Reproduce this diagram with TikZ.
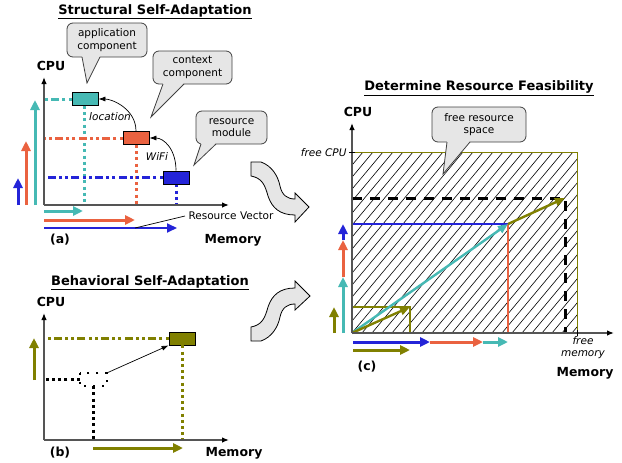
\documentclass[tikz,border=0pt]{standalone}
\usepackage{fontspec}
\setmainfont{DejaVu Sans}
\usetikzlibrary{arrows.meta,calc}
\definecolor{cteal}{RGB}{70,185,180}
\definecolor{corange}{RGB}{234,98,64}
\definecolor{cblue}{RGB}{36,36,216}
\definecolor{colive}{RGB}{128,128,0}
\definecolor{bubblegray}{RGB}{230,230,230}
\definecolor{axisgray}{RGB}{85,85,85}
\tikzset{
 box/.style={draw=black, line width=0.8pt, minimum width=26pt, minimum height=13pt, inner sep=0pt},
 bubble/.style={draw=black!75, fill=bubblegray, rounded corners=6pt, line width=0.8pt, align=center, font=\fontsize{10.5}{12.5}\selectfont, inner sep=0pt},
 ptr/.style={draw=black!75, line width=0.8pt},
 axis/.style={draw=axisgray, line width=1.3pt, -{Latex[length=7pt,width=5.5pt,color=black]}},
 fatarrow/.style={line width=3pt, -{Triangle[length=10pt,width=9pt]}},
 midarrow/.style={line width=2.4pt, -{Triangle[length=10pt,width=9pt]}},
 thinarrow/.style={line width=0.7pt, -{Latex[length=7pt,width=5pt]}},
 dotline/.style={line width=3pt, dash pattern=on 3pt off 3.2pt},
 dashdotline/.style={line width=3pt, dash pattern=on 3pt off 3.2pt on 3pt off 3.2pt on 8pt off 3.2pt},
 thindots/.style={line width=2pt, dash pattern=on 2pt off 7pt},
 titletxt/.style={font=\fontsize{13}{15}\bfseries\selectfont},
 labtxt/.style={font=\fontsize{12.5}{14}\bfseries\selectfont},
 txt/.style={font=\fontsize{10.5}{12}\selectfont},
 itxt/.style={font=\fontsize{10.5}{12}\itshape\selectfont},
 bigarrow/.style={draw=black, line width=0.8pt, fill=bubblegray},
}
\begin{document}
\begin{tikzpicture}[x=1pt,y=-1pt]
\useasboundingbox (0,0) rectangle (622,463);

% ===================== Panel (a) =====================
\node[titletxt] (ta) at (155,12) {\underline{Structural Self-Adaptation}};
\node[labtxt] (cpua) at (51,66) {CPU};
\node[labtxt] (la) at (60,240) {(a)};
\node[labtxt] (mema) at (233,240) {Memory};

\coordinate (Oa) at (44,205);
\coordinate (Ya) at (44,77);
\coordinate (Xa) at (229,205);

\node[box, fill=cteal] (app) at (85,99) {};
\node[box, fill=corange] (ctx) at (136,138) {};
\node[box, fill=cblue] (res) at (176,177.5) {};

% dotted projections
\draw[dashdotline, cteal] (app.west) -- (app.west -| Oa);
\draw[dotline, cteal] (app.south -| 84,0) -- (84,205);
\draw[dashdotline, corange] (ctx.west) -- (ctx.west -| Oa);
\draw[dotline, corange] (ctx.south) -- (ctx.south |- Oa);
\draw[dashdotline, cblue] (res.west) -- (res.west -| Oa);
\draw[dotline, cblue] (res.south) -- (res.south |- Oa);

\draw[axis] (Oa) -- (Ya);
\draw[axis] (Oa) -- (Xa);

\node[box, fill=cteal] at (app) {};
\node[box, fill=corange] at (ctx) {};
\node[box, fill=cblue] at (res) {};

% dependency arrows
\draw[thinarrow] (ctx.north) .. controls +(0,-22) and +(14,0) .. (app.east);
\draw[thinarrow] (res.north) .. controls +(0,-22) and +(14,0) .. (ctx.east);
\node[itxt] (loc) at (110,117) {location};
\node[itxt] (wifi) at (157,157) {WiFi};

% left arrows
\coordinate (ab) at (18,205); \coordinate (abt) at (18,178);
\coordinate (ao) at (26,205); \coordinate (aot) at (26,141);
\coordinate (at) at (35,205); \coordinate (att) at (35,100);
\draw[fatarrow, cblue] (ab) -- (abt);
\draw[fatarrow, corange] (ao) -- (aot);
\draw[fatarrow, cteal] (at) -- (att);

% bottom arrows
\coordinate (bt0) at (44,211); \coordinate (bt1) at (83,211);
\coordinate (bo0) at (44,220); \coordinate (bo1) at (135,220);
\coordinate (bb0) at (44,228); \coordinate (bb1) at (177,228);
\draw[fatarrow, cteal] (bt0) -- (bt1);
\draw[fatarrow, corange] (bo0) -- (bo1);
\draw[midarrow, cblue, line width=2pt] (bb0) -- (bb1);

\node[txt, anchor=west] (rv) at (185,216) {Resource Vector};
\coordinate (rvp) at (135,228);
\draw[line width=0.7pt] (rv.west) -- (rvp);

% callouts
\node[bubble, minimum width=80pt, minimum height=34pt] (capp) at (107,40) {application\\component};
\fill[bubblegray] (82,56) -- (87,83) -- (100,56) -- cycle;
\draw[ptr] (82,57) -- (87,83) -- (100,57);

\node[bubble, minimum width=79pt, minimum height=33pt] (cctx) at (192.5,67.5) {context\\component};
\fill[bubblegray] (163,83) -- (151,117) -- (184,83) -- cycle;
\draw[ptr] (163,84) -- (151,117) -- (184,84);

\node[bubble, minimum width=71pt, minimum height=33pt] (cres) at (231.5,127.5) {resource\\module};
\fill[bubblegray] (201,143) -- (194,165) -- (216,143) -- cycle;
\draw[ptr] (201,144) -- (194,165) -- (216,144);

% ===================== Panel (b) =====================
\node[titletxt] (tb) at (150,283) {\underline{Behavioral Self-Adaptation}};
\node[labtxt] (cpub) at (51,302) {CPU};
\node[labtxt] (lb) at (60,453) {(b)};
\node[labtxt] (memb) at (234,453) {Memory};

\coordinate (Ob) at (44,440);
\coordinate (Yb) at (44,313);
\coordinate (Xb) at (229,440);

\node[box, fill=colive] (beh) at (182,338.5) {};
\node[minimum width=27pt, minimum height=13pt, inner sep=0pt] (old) at (93.5,379.5) {};
\draw[thindots] (old.north west) rectangle (old.south east);

\draw[dashdotline, colive] (beh.west) -- (beh.west -| Ob);
\draw[dotline, colive] (beh.south) -- (beh.south |- Ob);
\draw[dotline, black] (old.west) -- (old.west -| Ob);
\draw[dotline, black] (old.south) -- (old.south |- Ob);

\draw[axis] (Ob) -- (Yb);
\draw[axis] (Ob) -- (Xb);

\draw[thinarrow] (old.north east) -- (beh.south west);

\coordinate (bv0) at (34,380); \coordinate (bv1) at (34,338);
\draw[fatarrow, colive] (bv0) -- (bv1);
\coordinate (bh0) at (93,448); \coordinate (bh1) at (183,448);
\draw[fatarrow, colive] (bh0) -- (bh1);

% ===================== big curved arrows =====================
\draw[bigarrow] (261,162) .. controls (272,166) and (278,176) .. (280,186)
  .. controls (282,195) and (287,199) .. (295,199) -- (295,193) -- (309,207) -- (295,222) -- (295,215)
  .. controls (280,215) and (272,208) .. (268,196) .. controls (265,185) and (262,178) .. (251,176)
  -- (251,162) -- cycle;
\draw[bigarrow] (261,341) .. controls (272,337) and (278,327) .. (280,317)
  .. controls (282,308) and (287,304) .. (295,304) -- (295,310) -- (310,296) -- (295,281) -- (295,288)
  .. controls (280,288) and (272,295) .. (268,307) .. controls (265,318) and (262,325) .. (251,327)
  -- (251,341) -- cycle;

% ===================== Panel (c) =====================
\node[titletxt] (tc) at (479,88) {\underline{Determine Resource Feasibility}};
\node[labtxt] (cpuc) at (358,112) {CPU};
\node[labtxt] (lc) at (367,367) {(c)};
\node[labtxt] (memc) at (585,373) {Memory};

\coordinate (Oc) at (352,333);
\coordinate (Rc) at (577,152);
\coordinate (Yc) at (352,123);
\coordinate (Xc) at (614,333);

\begin{scope}
\clip (Oc) rectangle (Rc);
\foreach \i in {-16,...,23} {
  \draw[line width=0.6pt] ({352+\i*10},333) -- ({352+\i*10+151},152);
}
\end{scope}
\draw[colive, line width=0.9pt] (Oc) rectangle (Rc);

\coordinate (P0) at (410,307);
\coordinate (P1) at (508,224);
\coordinate (P2) at (565,198);

\draw[black, line width=3pt, dash pattern=on 10pt off 8pt] (Oc |- P2) -- (P2) -- (P2 |- Oc);
\draw[colive, line width=2pt] (Oc |- P0) -- (P0) -- (P0 |- Oc);
\draw[cblue, line width=2pt] (Oc |- P1) -- (P1);
\draw[corange, line width=2pt] (P1) -- (P1 |- Oc);
\draw[cteal, line width=2.4pt, -{Triangle[length=10pt,width=8pt]}] (Oc) -- (P1);
\draw[colive, line width=2.4pt, -{Triangle[length=10pt,width=8pt]}] (Oc) -- (P0);
\draw[colive, line width=2.4pt, -{Triangle[length=10pt,width=8pt]}] (P1) -- (P2);

\draw[axis] (Oc) -- (Yc);
\draw[axis] (Oc) -- (Xc);

\node[itxt, anchor=east] (fcpu) at (350,153) {free CPU};
\draw[line width=0.6pt] (349,152) -- (355,152);
\node[itxt, align=center] (fmem) at (583,348) {free\\memory};
\draw[line width=0.6pt] (577,330) -- (577,336);

% left arrows (c)
\coordinate (cl0) at (334,333); \coordinate (cl1) at (334,307);
\coordinate (ct0) at (343,333); \coordinate (ct1) at (343,277);
\coordinate (co1) at (343,240);
\coordinate (cb1) at (343,224);
\draw[fatarrow, colive] (cl0) -- (cl1);
\draw[fatarrow, cteal] (ct0) -- (ct1);
\draw[fatarrow, corange] (ct1) -- (co1);
\draw[fatarrow, cblue] (co1) -- (cb1);

% bottom arrows (c)
\coordinate (cx0) at (353,342); \coordinate (cx1) at (430,342);
\coordinate (cx2) at (483,342); \coordinate (cx3) at (508,342);
\draw[fatarrow, cblue] (cx0) -- (cx1);
\draw[fatarrow, corange] (cx1) -- (cx2);
\draw[fatarrow, cteal] (cx2) -- (cx3);
\coordinate (cy0) at (353,350); \coordinate (cy1) at (410,350);
\draw[fatarrow, colive] (cy0) -- (cy1);

% callout (c)
\node[bubble, minimum width=94pt, minimum height=35pt] (cfree) at (479,124.5) {free resource\\space};
\fill[bubblegray] (447,141) -- (443,174) -- (470,141) -- cycle;
\draw[ptr] (447,142) -- (443,174) -- (470,142);
\end{tikzpicture}
\end{document}
